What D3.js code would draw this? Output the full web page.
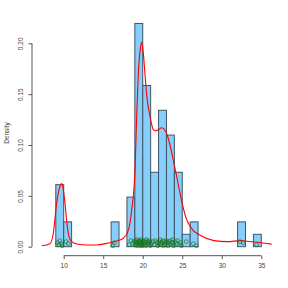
<!DOCTYPE html>
<html><head><meta charset="utf-8">
<script src="https://cdn.jsdelivr.net/npm/d3@7"></script>
<style>body{margin:0;background:#fff}svg{display:block}text{font-family:"Liberation Sans",Arial,sans-serif}</style>
</head><body><div id="chart"></div>
<script>
// histogram bins (width 1) and densities (count / 82)
const binStarts = [9,10,11,12,13,14,15,16,17,18,19,20,21,22,23,24,25,26,27,28,29,30,31,32,33,34];
const binCounts = [5,2,0,0,0,0,0,2,0,4,18,13,6,11,9,6,1,2,0,0,0,0,0,2,0,1];
const nObs = 82;
// kernel density curve
const densX = [7.22,8.27,8.68,9.11,9.44,9.75,9.95,10.16,10.38,10.67,11.01,11.64,12.91,14.18,15.44,16.71,17.54,18.17,18.60,19.02,19.24,19.44,19.70,19.87,20.05,20.30,20.50,20.92,21.34,21.55,21.95,22.40,23.03,23.45,23.87,24.30,24.63,25.01,25.44,26.07,27.33,29.02,30.70,32.39,33.23,34.49,36.3];
const densY = [0.001,0.003,0.013,0.043,0.057,0.062,0.056,0.043,0.025,0.010,0.005,0.0027,0.0017,0.0017,0.0033,0.0056,0.0083,0.016,0.036,0.075,0.130,0.170,0.195,0.201,0.192,0.168,0.149,0.128,0.115,0.114,0.115,0.117,0.111,0.100,0.085,0.069,0.056,0.042,0.029,0.019,0.011,0.006,0.005,0.006,0.0053,0.0043,0.0025];
// jittered observations (rug points)
const rugX = [9.2,9.4,9.5,9.7,9.8,10.3,10.6,16.2,16.4,18.3,18.5,18.7,18.9,
  19.05,19.1,19.2,19.25,19.3,19.4,19.45,19.5,19.55,19.6,19.65,19.7,19.75,19.8,19.85,19.9,19.95,19.98,
  20.05,20.1,20.2,20.3,20.35,20.4,20.5,20.6,20.65,20.7,20.8,20.9,20.95,
  21.1,21.3,21.5,21.6,21.8,21.9,
  22.05,22.1,22.2,22.3,22.4,22.5,22.6,22.7,22.8,22.85,22.95,
  23.1,23.2,23.3,23.4,23.5,23.6,23.7,23.8,23.9,
  24.1,24.3,24.4,24.6,24.8,24.9,25.5,26.4,26.8,32.3,32.7,34.4];
const rugY = [0.004,0.002,0.006,0.003,0.001,0.005,0.003,0.001,0.004,0.002,0.006,0.003,0.005,
  0.002,0.006,0.004,0.001,0.007,0.003,0.005,0.002,0.006,0.004,0.001,0.005,0.003,0.007,0.002,0.004,0.006,0.001,
  0.003,0.005,0.002,0.006,0.004,0.001,0.007,0.003,0.005,0.002,0.004,0.006,0.001,
  0.003,0.005,0.002,0.006,0.004,0.001,
  0.005,0.003,0.007,0.002,0.004,0.006,0.001,0.005,0.003,0.002,0.006,
  0.004,0.001,0.005,0.003,0.006,0.002,0.004,0.007,0.001,
  0.005,0.003,0.006,0.002,0.004,0.001,0.005,0.003,0.001,0.005,0.004,0.002];
const xTicks = [10,15,20,25,30,35];
const yTicks = [0,0.05,0.10,0.15,0.20];
const yTickLabels = ["0.00","0.05","0.10","0.15","0.20"];
const yTitle = "Density";

const W = 288, H = 288;
const svg = d3.select("#chart").append("svg").attr("width", W).attr("height", H);
const x = d3.scaleLinear().domain([10, 35]).range([63.7, 261.3]);
const y = d3.scaleLinear().domain([0, 0.20]).range([246.7, 43.3]);

// bars
svg.append("g").selectAll("rect").data(binStarts.map((s,i)=>({s, d: binCounts[i]/nObs})))
  .join("rect")
  .attr("x", d => x(d.s)).attr("width", d => x(d.s+1) - x(d.s))
  .attr("y", d => y(d.d)).attr("height", d => y(0) - y(d.d))
  .attr("fill", "#87cefa").attr("stroke", "#3d5566").attr("stroke-width", 1);

// density line
const line = d3.line().x(d => x(d[0])).y(d => y(d[1])).curve(d3.curveMonotoneX);
svg.append("path").datum(densX.map((v,i)=>[v, densY[i]]))
  .attr("d", line).attr("fill", "none").attr("stroke", "#ff0000").attr("stroke-width", 1.1);

// rug points
svg.append("g").selectAll("circle").data(rugX.map((v,i)=>[v, rugY[i]]))
  .join("circle")
  .attr("cx", d => x(d[0])).attr("cy", d => y(d[1]))
  .attr("r", 1.9).attr("fill", "none").attr("stroke", "#137313").attr("stroke-width", 0.8).attr("opacity", 0.85);

// x axis
const xAxis = svg.append("g").attr("transform", "translate(0,255.7)")
  .call(d3.axisBottom(x).tickValues(xTicks).tickSize(3.5).tickPadding(4).tickFormat(d3.format("d")));
xAxis.select(".domain").attr("d", `M${x(10)},0H${x(35)}`).attr("stroke", "#555");
xAxis.selectAll(".tick line").attr("stroke", "#555");
xAxis.selectAll("text").attr("font-size", 6.5).attr("fill", "#444");

// y axis
const yAxis = svg.append("g").attr("transform", "translate(32,0)")
  .call(d3.axisLeft(y).tickValues(yTicks).tickSize(3.5).tickFormat((d,i)=>yTickLabels[i]));
yAxis.select(".domain").attr("d", `M0,${y(0)}V${y(0.20)}`).attr("stroke", "#555");
yAxis.selectAll(".tick line").attr("stroke", "#555");
yAxis.selectAll(".tick text").attr("font-size", 6.5).attr("fill", "#444")
  .attr("x", null).attr("dy", null)
  .attr("transform", "translate(-11,0) rotate(-90)")
  .attr("text-anchor", "middle").attr("dominant-baseline", "middle");

svg.append("text").attr("transform", "translate(7,133) rotate(-90)")
  .attr("text-anchor", "middle").attr("dominant-baseline", "middle")
  .attr("font-size", 6.5).attr("fill", "#444").text(yTitle);
</script></body></html>
